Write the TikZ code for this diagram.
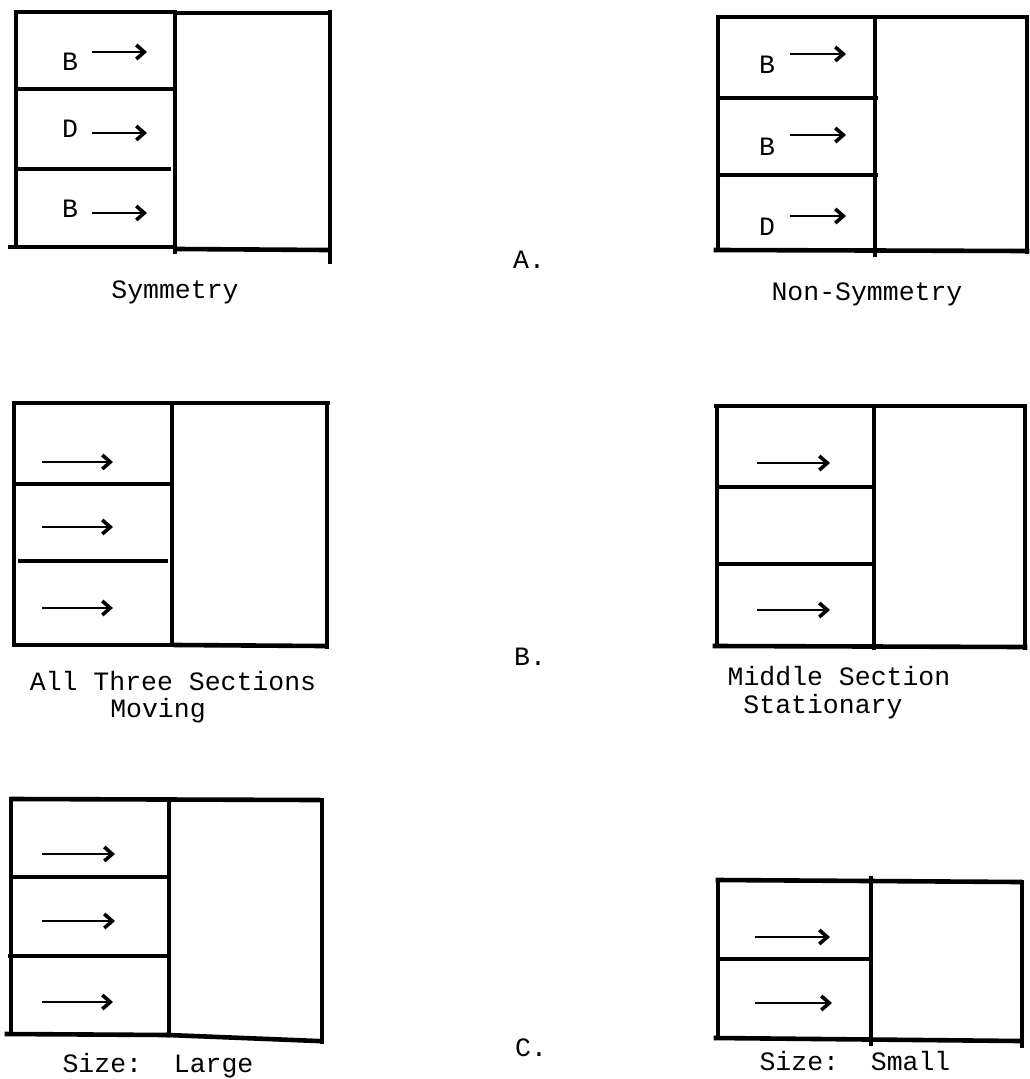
\documentclass[tikz,border=0pt]{standalone}
\usepackage{fontspec}
\setmonofont{Liberation Mono}
\usetikzlibrary{arrows.meta}
\begin{document}
\begin{tikzpicture}[x=1pt,y=-1pt,
  box/.style={line width=4.6pt, line cap=rect},
  mid/.style={line width=3.8pt, line cap=rect},
  div/.style={line width=4.8pt, line cap=butt},
  thindiv/.style={line width=3.2pt, line cap=butt},
  mv/.style={draw, line width=1.6pt, -{Straight Barb[length=8pt,width=14pt,line width=3.6pt]}},
  lbl/.style={font=\ttfamily\fontsize{26.5}{30}\selectfont, inner sep=0pt, anchor=base west},
  captext/.style={font=\ttfamily\fontsize{26.5}{30}\selectfont, inner sep=0pt, anchor=base}]
\useasboundingbox (0,0) rectangle (1029,1079);

% ---------- A left: Symmetry ----------
\draw[box] (16,12) -- (172,12);
\draw[box] (179,13) -- (327,13);
\draw[box] (16,12) -- (16,247);
\draw[mid] (175,12) -- (175,252);
\draw[box] (330,12) -- (330,262);
\draw[div] (16,89) -- (175,89);
\draw[div] (18,169) -- (171,169);
\draw[box] (10,247) -- (172,247);
\draw[box] (178,249) -- (327,250);
\node[lbl] (la1) at (62,70) {B};
\node[lbl] (la2) at (62,137) {D};
\node[lbl] (la3) at (62,217) {B};
\coordinate (a1s) at (92,52);  \coordinate (a1e) at (147,52);
\coordinate (a2s) at (92,133); \coordinate (a2e) at (147,133);
\coordinate (a3s) at (92,213); \coordinate (a3e) at (147,213);
\draw[mv] (a1s) -- (a1e);
\draw[mv] (a2s) -- (a2e);
\draw[mv] (a3s) -- (a3e);
\node[captext] (ca1) at (175,298) {Symmetry};

\node[captext] (tA) at (529,268) {A.};

% ---------- A right: Non-Symmetry ----------
\draw[box] (718,17) -- (1027,17);
\draw[box] (718,17) -- (718,250);
\draw[mid] (875,17) -- (875,255);
\draw[box] (1027,17) -- (1027,252);
\draw[div] (717,98) -- (878,98);
\draw[div] (717,175) -- (878,175);
\draw[box] (716,250) -- (1027,251);
\node[lbl] (lb1) at (759,73) {B};
\node[lbl] (lb2) at (759,155) {B};
\node[lbl] (lb3) at (759,235) {D};
\coordinate (b1s) at (790,54);  \coordinate (b1e) at (846,54);
\coordinate (b2s) at (790,135); \coordinate (b2e) at (846,135);
\coordinate (b3s) at (790,216); \coordinate (b3e) at (846,216);
\draw[mv] (b1s) -- (b1e);
\draw[mv] (b2s) -- (b2e);
\draw[mv] (b3s) -- (b3e);
\node[captext] (cb1) at (867,300) {Non-Symmetry};

% ---------- B left: All Three Sections Moving ----------
\draw[box] (14,403) -- (328,403);
\draw[box] (14,403) -- (14,645);
\draw[mid] (172,403) -- (172,645);
\draw[box] (327,403) -- (327,647);
\draw[div] (14,484) -- (173,484);
\draw[div] (18,561) -- (168,561);
\draw[box] (17,645) -- (168,645);
\draw[box] (176,645) -- (323,646);
\coordinate (c1s) at (42,462);  \coordinate (c1e) at (113,462);
\coordinate (c2s) at (42,527);  \coordinate (c2e) at (113,527);
\coordinate (c3s) at (42,608);  \coordinate (c3e) at (113,608);
\draw[mv] (c1s) -- (c1e);
\draw[mv] (c2s) -- (c2e);
\draw[mv] (c3s) -- (c3e);
\node[captext] (cc1) at (173,690) {All Three Sections};
\node[captext] (cc2) at (158,717) {Moving};

\node[captext] (tB) at (530,665) {B.};

% ---------- B right: Middle Section Stationary ----------
\draw[box] (716,406) -- (1025,406);
\draw[box] (717,406) -- (717,646);
\draw[mid] (874,406) -- (874,648);
\draw[box] (1025,406) -- (1025,648);
\draw[thindiv] (717,487) -- (876,487);
\draw[thindiv] (717,564) -- (876,564);
\draw[box] (715,646) -- (1025,647);
\coordinate (d1s) at (757,463);  \coordinate (d1e) at (830,463);
\coordinate (d2s) at (757,610);  \coordinate (d2e) at (830,610);
\draw[mv] (d1s) -- (d1e);
\draw[mv] (d2s) -- (d2e);
\node[captext] (cd1) at (839,685) {Middle Section};
\node[captext] (cd2) at (823,713) {Stationary};

% ---------- C left: Size Large ----------
\draw[box] (12,799) -- (318,800);
\draw[box] (11,799) -- (11,1034);
\draw[mid] (169,800) -- (169,1035);
\draw[box] (322,800) -- (322,1042);
\draw[div] (9,877) -- (171,877);
\draw[div] (8,956) -- (170,956);
\draw[box] (7,1034) -- (168,1035);
\draw[box] (168,1035) -- (318,1041);
\coordinate (e1s) at (42,854);   \coordinate (e1e) at (115,854);
\coordinate (e2s) at (42,921);   \coordinate (e2e) at (115,921);
\coordinate (e3s) at (42,1002);  \coordinate (e3e) at (113,1002);
\draw[mv] (e1s) -- (e1e);
\draw[mv] (e2s) -- (e2e);
\draw[mv] (e3s) -- (e3e);
\node[captext] (ce1) at (158,1072) {Size:~~Large};

\node[captext] (tC) at (531,1056) {C.};

% ---------- C right: Size Small ----------
\draw[box] (718,880) -- (1020,882);
\draw[box] (718,880) -- (718,1038);
\draw[mid] (871,878) -- (871,1044);
\draw[box] (1022,882) -- (1022,1046);
\draw[div] (718,959) -- (872,959);
\draw[box] (716,1038) -- (1020,1041);
\coordinate (f1s) at (755,937);   \coordinate (f1e) at (830,937);
\coordinate (f2s) at (755,1003);  \coordinate (f2e) at (832,1003);
\draw[mv] (f1s) -- (f1e);
\draw[mv] (f2s) -- (f2e);
\node[captext] (cf1) at (855,1070) {Size:~~Small};
\end{tikzpicture}
\end{document}
